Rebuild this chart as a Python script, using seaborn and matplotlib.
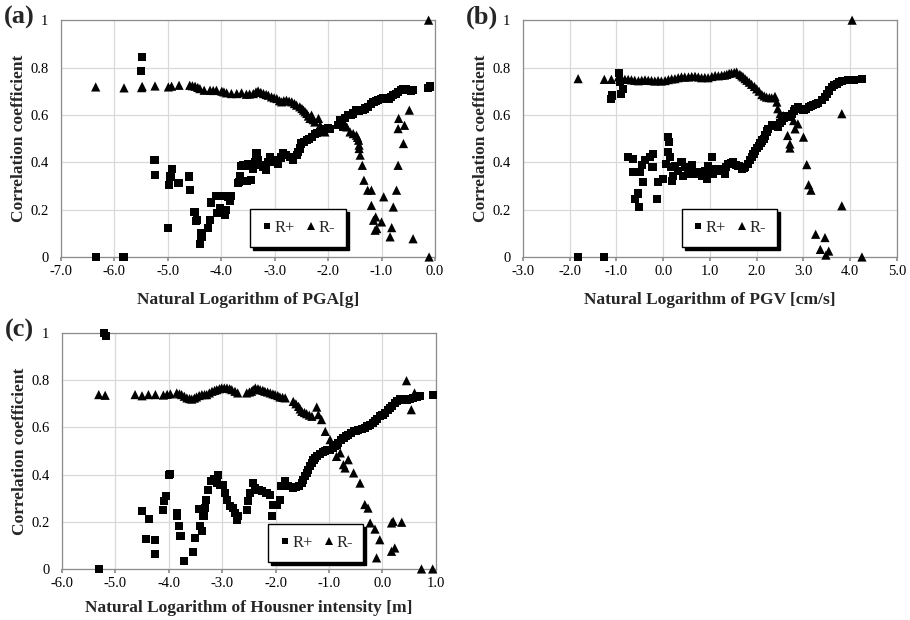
import matplotlib
matplotlib.use("Agg")
import matplotlib.pyplot as plt
import seaborn as sns
import pandas as pd

# ---------------- data ----------------
pga_rplus = [(-6.35, 0.0), (-5.83, 0.0), (-5.50, 0.785), (-5.48, 0.846), (-5.25, 0.411), (-5.24, 0.347),
             (-4.99, 0.123), (-4.97, 0.304), (-4.95, 0.34), (-4.93, 0.37), (-4.80, 0.312), (-4.60, 0.34),
             (-4.58, 0.281), (-4.50, 0.19), (-4.47, 0.151), (-4.45, 0.157), (-4.40, 0.056), (-4.37, 0.086),
             (-4.37, 0.10), (-4.24, 0.121), (-4.21, 0.157), (-4.20, 0.23), (-4.10, 0.258), (-4.07, 0.185),
             (-4.02, 0.205), (-3.94, 0.258), (-3.93, 0.179), (-3.92, 0.20), (-3.87, 0.253), (-3.83, 0.237),
             (-3.82, 0.258), (-3.69, 0.312), (-3.67, 0.317), (-3.65, 0.343), (-3.63, 0.385), (-3.59, 0.387),
             (-3.54, 0.385), (-3.51, 0.32), (-3.49, 0.394), (-3.45, 0.324), (-3.40, 0.373), (-3.37, 0.40),
             (-3.34, 0.437), (-3.31, 0.408), (-3.26, 0.39), (-3.21, 0.38), (-3.17, 0.366), (-3.13, 0.40),
             (-3.09, 0.42), (-3.03, 0.408), (-2.98, 0.40), (-2.93, 0.394), (-2.88, 0.42), (-2.84, 0.437),
             (-2.78, 0.43), (-2.71, 0.423), (-2.65, 0.408), (-2.59, 0.43), (-2.56, 0.445), (-2.53, 0.458),
             (-2.50, 0.479), (-2.45, 0.485), (-2.40, 0.493), (-2.35, 0.50), (-2.31, 0.507), (-2.25, 0.521),
             (-2.20, 0.525), (-2.15, 0.528), (-2.10, 0.535), (-2.06, 0.542), (-2.01, 0.545), (-1.97, 0.542),
             (-1.81, 0.556), (-1.78, 0.577), (-1.75, 0.56), (-1.72, 0.549), (-1.68, 0.585), (-1.62, 0.599),
             (-1.57, 0.60), (-1.53, 0.606), (-1.47, 0.62), (-1.43, 0.618), (-1.40, 0.62), (-1.35, 0.622),
             (-1.31, 0.627), (-1.25, 0.634), (-1.20, 0.645), (-1.15, 0.655), (-1.10, 0.66), (-1.06, 0.662),
             (-1.01, 0.668), (-0.97, 0.669), (-0.92, 0.668), (-0.87, 0.669), (-0.82, 0.675), (-0.78, 0.683),
             (-0.73, 0.69), (-0.69, 0.697), (-0.64, 0.705), (-0.59, 0.711), (-0.55, 0.708), (-0.50, 0.704),
             (-0.45, 0.703), (-0.41, 0.704), (-0.13, 0.715), (-0.09, 0.72)]
pga_rminus = [(-6.35, 0.718), (-5.82, 0.714), (-5.49, 0.715), (-5.48, 0.72), (-5.24, 0.722), (-4.99, 0.718),
              (-4.93, 0.721), (-4.79, 0.725), (-4.59, 0.725), (-4.54, 0.723), (-4.49, 0.721), (-4.44, 0.716),
              (-4.40, 0.711), (-4.32, 0.704), (-4.21, 0.704), (-4.15, 0.703), (-4.09, 0.704), (-3.99, 0.70),
              (-3.95, 0.697), (-3.90, 0.693), (-3.81, 0.69), (-3.71, 0.69), (-3.62, 0.693), (-3.53, 0.687),
              (-3.47, 0.688), (-3.40, 0.69), (-3.35, 0.697), (-3.31, 0.701), (-3.26, 0.695), (-3.21, 0.69),
              (-3.16, 0.686), (-3.12, 0.683), (-3.06, 0.676), (-3.01, 0.672), (-2.96, 0.669), (-2.91, 0.66),
              (-2.87, 0.655), (-2.83, 0.66), (-2.78, 0.662), (-2.73, 0.658), (-2.68, 0.655), (-2.63, 0.648),
              (-2.59, 0.641), (-2.53, 0.634), (-2.49, 0.627), (-2.46, 0.62), (-2.43, 0.613), (-2.40, 0.606),
              (-2.37, 0.595), (-2.34, 0.585), (-2.31, 0.599), (-2.28, 0.58), (-2.25, 0.570), (-2.18, 0.585),
              (-2.15, 0.556), (-2.12, 0.542), (-2.09, 0.535), (-2.06, 0.528),
              (-1.65, 0.549), (-1.59, 0.528), (-1.53, 0.521), (-1.47, 0.514), (-1.45, 0.505), (-1.43, 0.493),
              (-1.42, 0.472), (-1.42, 0.458), (-1.40, 0.430), (-1.36, 0.387), (-1.33, 0.324), (-1.26, 0.282),
              (-1.19, 0.282), (-1.19, 0.218), (-1.15, 0.155), (-1.11, 0.169), (-1.12, 0.113), (-1.09, 0.12),
              (-1.00, 0.148), (-0.96, 0.254), (-0.84, 0.085), (-0.81, 0.124), (-0.78, 0.211), (-0.72, 0.282),
              (-0.69, 0.387), (-0.69, 0.542), (-0.68, 0.585), (-0.59, 0.479), (-0.57, 0.556), (-0.48, 0.62),
              (-0.41, 0.077), (-0.12, 1.0), (-0.11, 0.0)]

pgv_rplus = [(-1.82, 0.0), (-1.26, 0.0), (-1.11, 0.668), (-1.09, 0.682), (-0.95, 0.777), (-0.93, 0.739),
             (-0.91, 0.689), (-0.86, 0.71), (-0.75, 0.424), (-0.64, 0.414), (-0.64, 0.357), (-0.61, 0.244),
             (-0.54, 0.268), (-0.52, 0.212), (-0.50, 0.357), (-0.46, 0.39), (-0.43, 0.318), (-0.39, 0.41),
             (-0.29, 0.421), (-0.23, 0.379), (-0.21, 0.435), (-0.14, 0.244), (-0.12, 0.315), (0.0, 0.329),
             (0.05, 0.393), (0.11, 0.506), (0.12, 0.484), (0.11, 0.442), (0.14, 0.421), (0.16, 0.379),
             (0.19, 0.322), (0.21, 0.343), (0.25, 0.386), (0.32, 0.364), (0.39, 0.40), (0.43, 0.343),
             (0.46, 0.379), (0.54, 0.35), (0.57, 0.38), (0.61, 0.39), (0.68, 0.35), (0.72, 0.36), (0.75, 0.357),
             (0.82, 0.343), (0.86, 0.35), (0.89, 0.364), (0.93, 0.329), (0.96, 0.386), (1.0, 0.37), (1.04, 0.421),
             (1.07, 0.35), (1.14, 0.371), (1.20, 0.365), (1.25, 0.371), (1.32, 0.35), (1.35, 0.38), (1.39, 0.393),
             (1.45, 0.395), (1.50, 0.40), (1.55, 0.39), (1.61, 0.386), (1.68, 0.371), (1.72, 0.375), (1.75, 0.379),
             (1.82, 0.393), (1.86, 0.41), (1.89, 0.421), (1.93, 0.435), (1.96, 0.449), (2.0, 0.46), (2.04, 0.470),
             (2.08, 0.48), (2.11, 0.492), (2.15, 0.50), (2.18, 0.513), (2.22, 0.53), (2.25, 0.541), (2.32, 0.555),
             (2.39, 0.559), (2.46, 0.548), (2.50, 0.565), (2.54, 0.576), (2.58, 0.588), (2.61, 0.597), (2.68, 0.590),
             (2.75, 0.605), (2.79, 0.615), (2.82, 0.626), (2.89, 0.633), (2.95, 0.625), (3.0, 0.619), (3.05, 0.626),
             (3.11, 0.633), (3.16, 0.637), (3.21, 0.64), (3.27, 0.645), (3.32, 0.65), (3.39, 0.661), (3.46, 0.675),
             (3.50, 0.69), (3.54, 0.703), (3.61, 0.718), (3.66, 0.725), (3.71, 0.732), (3.76, 0.738), (3.82, 0.743),
             (3.96, 0.749), (4.07, 0.749), (4.25, 0.753)]
pgv_rminus = [(-1.82, 0.753), (-1.26, 0.75), (-1.11, 0.75), (-0.96, 0.76), (-0.89, 0.753), (-0.82, 0.75),
              (-0.75, 0.75), (-0.68, 0.748), (-0.61, 0.746), (-0.53, 0.744), (-0.46, 0.746), (-0.39, 0.748),
              (-0.32, 0.746), (-0.25, 0.745), (-0.18, 0.743), (-0.11, 0.745), (-0.04, 0.743), (0.04, 0.745),
              (0.11, 0.749), (0.18, 0.752), (0.25, 0.753), (0.32, 0.757), (0.39, 0.760), (0.46, 0.76), (0.54, 0.760),
              (0.61, 0.762), (0.68, 0.763), (0.75, 0.76), (0.82, 0.757), (0.89, 0.758), (0.96, 0.757), (1.04, 0.762),
              (1.11, 0.766), (1.18, 0.765), (1.25, 0.767), (1.31, 0.768), (1.36, 0.771), (1.41, 0.775), (1.46, 0.777),
              (1.52, 0.779), (1.57, 0.781), (1.64, 0.771), (1.68, 0.765), (1.71, 0.760), (1.75, 0.753), (1.79, 0.746),
              (1.84, 0.738), (1.89, 0.729), (1.95, 0.72), (2.0, 0.710), (2.05, 0.70), (2.11, 0.686), (2.16, 0.68),
              (2.21, 0.675), (2.27, 0.673), (2.32, 0.672), (2.39, 0.678), (2.43, 0.654), (2.45, 0.626), (2.50, 0.605),
              (2.57, 0.597), (2.66, 0.513), (2.71, 0.477), (2.71, 0.460), (2.79, 0.576), (2.82, 0.541), (2.88, 0.562),
              (3.0, 0.506), (3.07, 0.39), (3.11, 0.305), (3.16, 0.282), (3.26, 0.096), (3.36, 0.032), (3.46, 0.082),
              (3.48, 0.008), (3.54, 0.025), (3.82, 0.605), (3.82, 0.216), (4.04, 1.0), (4.25, 0.0)]

hi_rplus = [(-5.31, 0.0), (-5.21, 1.0), (-5.18, 0.986), (-4.50, 0.244), (-4.43, 0.127), (-4.37, 0.212),
            (-4.25, 0.121), (-4.25, 0.065), (-4.10, 0.251), (-4.09, 0.287), (-4.05, 0.311), (-4.0, 0.397),
            (-3.97, 0.404), (-3.85, 0.237), (-3.84, 0.223), (-3.81, 0.184), (-3.78, 0.141), (-3.72, 0.032),
            (-3.54, 0.071), (-3.51, 0.131), (-3.44, 0.254), (-3.41, 0.181), (-3.38, 0.16), (-3.35, 0.223),
            (-3.32, 0.258), (-3.31, 0.294), (-3.26, 0.336), (-3.21, 0.371), (-3.16, 0.379), (-3.10, 0.364),
            (-3.07, 0.40), (-3.04, 0.357), (-2.98, 0.357), (-2.95, 0.322), (-2.91, 0.294), (-2.85, 0.266),
            (-2.79, 0.258), (-2.76, 0.237), (-2.73, 0.209), (-2.70, 0.223), (-2.54, 0.251), (-2.51, 0.287),
            (-2.48, 0.322), (-2.42, 0.364), (-2.39, 0.343), (-2.32, 0.336), (-2.26, 0.329), (-2.17, 0.322),
            (-2.10, 0.315), (-2.07, 0.226), (-2.04, 0.273), (-1.98, 0.273), (-1.92, 0.294), (-1.89, 0.35),
            (-1.82, 0.371), (-1.76, 0.35), (-1.67, 0.343), (-1.62, 0.346), (-1.57, 0.35), (-1.51, 0.364),
            (-1.48, 0.378), (-1.45, 0.393), (-1.42, 0.407), (-1.39, 0.421), (-1.35, 0.435), (-1.32, 0.449),
            (-1.29, 0.46), (-1.26, 0.470), (-1.22, 0.48), (-1.17, 0.489), (-1.12, 0.495), (-1.07, 0.499),
            (-1.03, 0.503), (-0.98, 0.506), (-0.93, 0.513), (-0.89, 0.52), (-0.86, 0.527), (-0.83, 0.534),
            (-0.78, 0.545), (-0.73, 0.555), (-0.68, 0.562), (-0.64, 0.569), (-0.59, 0.576), (-0.54, 0.583),
            (-0.50, 0.586), (-0.45, 0.588), (-0.39, 0.593), (-0.33, 0.597), (-0.28, 0.605), (-0.23, 0.612),
            (-0.18, 0.62), (-0.14, 0.626), (-0.10, 0.636), (-0.05, 0.647), (0.0, 0.654), (0.05, 0.661),
            (0.10, 0.672), (0.14, 0.682), (0.18, 0.692), (0.23, 0.703), (0.28, 0.71), (0.33, 0.718),
            (0.39, 0.718), (0.45, 0.718), (0.52, 0.722), (0.58, 0.725), (0.64, 0.728), (0.70, 0.732),
            (0.94, 0.739)]
hi_rminus = [(-5.31, 0.739), (-5.19, 0.736), (-4.63, 0.739), (-4.50, 0.734), (-4.38, 0.739), (-4.25, 0.739),
             (-4.10, 0.737), (-4.03, 0.74), (-3.97, 0.742), (-3.85, 0.746), (-3.80, 0.742), (-3.76, 0.739),
             (-3.71, 0.732), (-3.66, 0.725), (-3.61, 0.722), (-3.57, 0.72), (-3.52, 0.724), (-3.48, 0.729),
             (-3.43, 0.735), (-3.38, 0.739), (-3.33, 0.739), (-3.29, 0.739), (-3.24, 0.746), (-3.19, 0.753),
             (-3.14, 0.757), (-3.10, 0.760), (-3.05, 0.764), (-3.01, 0.767), (-2.96, 0.767), (-2.91, 0.767),
             (-2.86, 0.764), (-2.82, 0.760), (-2.76, 0.753), (-2.71, 0.746), (-2.54, 0.746), (-2.49, 0.75),
             (-2.45, 0.753), (-2.42, 0.76), (-2.38, 0.767), (-2.33, 0.764), (-2.29, 0.760), (-2.24, 0.757),
             (-2.20, 0.753), (-2.15, 0.75), (-2.10, 0.746), (-2.05, 0.742), (-2.01, 0.739), (-1.96, 0.735),
             (-1.92, 0.729), (-1.87, 0.727), (-1.82, 0.725), (-1.67, 0.710), (-1.62, 0.70), (-1.57, 0.689),
             (-1.54, 0.678), (-1.51, 0.668), (-1.46, 0.663), (-1.42, 0.658), (-1.37, 0.652), (-1.32, 0.647),
             (-1.23, 0.686), (-1.20, 0.654), (-1.14, 0.633), (-1.07, 0.583), (-0.98, 0.548), (-0.86, 0.477),
             (-0.79, 0.492), (-0.73, 0.442), (-0.70, 0.428), (-0.64, 0.463), (-0.54, 0.407), (-0.42, 0.364),
             (-0.33, 0.273), (-0.27, 0.258), (-0.23, 0.195), (-0.14, 0.169), (-0.11, 0.047), (-0.05, 0.124),
             (0.17, 0.075), (0.17, 0.195), (0.20, 0.202), (0.23, 0.089), (0.36, 0.198), (0.45, 0.798),
             (0.54, 0.675), (0.60, 0.746), (0.73, 0.0), (0.94, 0.0)]

series_names = ["R+", "R-"]
y_ticks = [0, 0.2, 0.4, 0.6, 0.8, 1.0]
y_tick_labels = ["0", "0.2", "0.4", "0.6", "0.8", "1"]
xticks_a = [-7.0, -6.0, -5.0, -4.0, -3.0, -2.0, -1.0, 0.0]
xticks_b = [-3.0, -2.0, -1.0, 0.0, 1.0, 2.0, 3.0, 4.0, 5.0]
xticks_c = [-6.0, -5.0, -4.0, -3.0, -2.0, -1.0, 0.0, 1.0]
panel_labels = ["(a)", "(b)", "(c)"]
x_titles = ["Natural Logarithm of PGA[g]", "Natural Logarithm of PGV [cm/s]",
            "Natural Logarithm of Housner intensity [m]"]
y_title = "Correlation coefficient"

# ---------------- style ----------------
sns.set_theme(style="whitegrid")
plt.rcParams["font.family"] = ["Liberation Serif", "DejaVu Serif"]
plt.rcParams["axes.edgecolor"] = "#8c8c8c"
plt.rcParams["grid.color"] = "#d9d9d9"
plt.rcParams["grid.linewidth"] = 0.9

fig = plt.figure(figsize=(9.1, 6.2), dpi=100)
ax_a = fig.add_axes([0.067, 0.5855, 0.411, 0.382])
ax_b = fig.add_axes([0.5747, 0.5855, 0.411, 0.382])
ax_c = fig.add_axes([0.068, 0.0823, 0.411, 0.3806])


def make_df(rplus, rminus):
    rows = [(x, y, "R+") for x, y in rplus] + [(x, y, "R-") for x, y in rminus]
    return pd.DataFrame(rows, columns=["x", "y", "series"])


panels = [
    (ax_a, make_df(pga_rplus, pga_rminus), xticks_a, (0.634, 0.122), 10),
    (ax_b, make_df(pgv_rplus, pgv_rminus), xticks_b, (0.552, 0.122), 10),
    (ax_c, make_df(hi_rplus, hi_rminus), xticks_c, (0.679, 0.11), 7),
]

for i, (ax, df, xt, legpos, xlpad) in enumerate(panels):
    sns.scatterplot(data=df, x="x", y="y", hue="series", style="series", size="series",
                    hue_order=series_names, style_order=series_names, size_order=series_names,
                    markers={"R+": "s", "R-": "^"},
                    palette={"R+": "black", "R-": "black"},
                    sizes={"R+": 34, "R-": 44},
                    linewidth=0, ax=ax, legend=True, clip_on=False, zorder=3)
    ax.set_xlim(xt[0], xt[-1])
    ax.set_ylim(0, 1)
    ax.set_xticks(xt)
    ax.set_xticklabels([f"{v:.1f}" for v in xt])
    ax.set_yticks(y_ticks)
    ax.set_yticklabels(y_tick_labels)
    ax.tick_params(axis="both", labelsize=10.5, colors="black")
    ax.tick_params(axis="x", length=3, color="#8c8c8c", direction="out", bottom=True, pad=3)
    ax.tick_params(axis="y", length=0, pad=9)
    ax.grid(True, color="#d9d9d9", linewidth=0.9)
    for sp in ax.spines.values():
        sp.set_color("#8c8c8c")
        sp.set_linewidth(0.9)
    ax.set_xlabel(x_titles[i], fontsize=12.5, fontweight="bold", labelpad=xlpad)
    ax.set_ylabel(y_title, fontsize=12.5, fontweight="bold", labelpad=2)
    ax.text(-0.152, 1.01, panel_labels[i], transform=ax.transAxes, fontsize=19,
            fontweight="bold", ha="left", va="center")
    handles, labels = ax.get_legend_handles_labels()
    ax.legend(handles, labels, loc="center", bbox_to_anchor=legpos, ncol=2,
              fontsize=12, frameon=True, fancybox=False, edgecolor="black",
              framealpha=1, shadow={"color": "black", "alpha": 1},
              handletextpad=0.1, columnspacing=0.6, markerscale=0.85,
              borderpad=0.65, handlelength=0.7, borderaxespad=0)

fig.savefig("out.png", dpi=100)
